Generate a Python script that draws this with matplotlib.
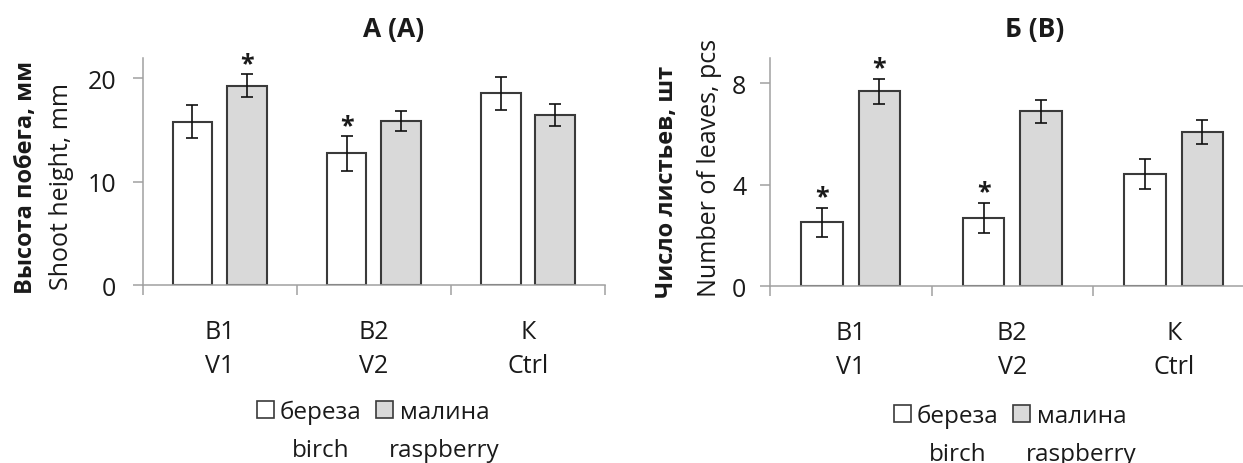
import matplotlib
matplotlib.use("Agg")
import matplotlib.pyplot as plt
from matplotlib.patches import Patch
import numpy as np

# ---------------- data ----------------
groups_ru = ["В1", "В2", "К"]
groups_en = ["V1", "V2", "Ctrl"]
species_ru = ["береза", "малина"]
species_en = ["birch", "raspberry"]

height_birch = [15.8, 12.75, 18.55]
height_birch_err = [1.6, 1.65, 1.6]
height_rasp = [19.3, 15.9, 16.5]
height_rasp_err = [1.1, 1.0, 1.05]
height_birch_sig = [False, True, False]
height_rasp_sig = [True, False, False]

leaves_birch = [2.52, 2.7, 4.42]
leaves_birch_err = [0.57, 0.6, 0.6]
leaves_rasp = [7.68, 6.9, 6.07]
leaves_rasp_err = [0.48, 0.45, 0.48]
leaves_birch_sig = [True, True, False]
leaves_rasp_sig = [True, False, False]

title_a = "А (A)"
title_b = "Б (B)"
ylabel_a_ru = "Высота побега, мм"
ylabel_a_en = "Shoot height, mm"
ylabel_b_ru = "Число листьев, шт"
ylabel_b_en = "Number of leaves, pcs"
yticks_a = [0, 10, 20]
yticks_b = [0, 4, 8]

# ---------------- style ----------------
plt.rcParams["font.family"] = ["Open Sans", "DejaVu Sans"]
TXT = "#1a1a1a"
SPINE = "#a0a0a0"
EDGE = "#3a3a3a"
FILL = ["#ffffff", "#d9d9d9"]
FS = 18

W, H = 1243, 464
fig = plt.figure(figsize=(W / 100, H / 100), dpi=100)


def fx(px):
    return px / W


def fy(py):
    return 1 - py / H


def make_panel(rect, vals_b, err_b, sig_b, vals_r, err_r, sig_r, ymax, yticks, ypad):
    ax = fig.add_axes(rect)
    x = np.arange(len(groups_ru))
    off = 0.177
    bw = 0.258
    series = [(vals_b, err_b, sig_b), (vals_r, err_r, sig_r)]
    for i, (v, e, s) in enumerate(series):
        pos = x + (-off if i == 0 else off)
        ax.bar(pos, v, width=bw, color=FILL[i], edgecolor=EDGE, linewidth=1.5, zorder=2)
        ax.errorbar(pos, v, yerr=e, fmt="none", ecolor="#111111", elinewidth=1.2,
                    capsize=4, capthick=1.2, zorder=3)
        for p, vv, ee, ss in zip(pos, v, e, s):
            if ss:
                ax.annotate("*", (p, vv + ee), xytext=(0, -1), textcoords="offset points",
                            ha="center", va="bottom", fontsize=18, fontweight="bold",
                            color=TXT)
    ax.set_xlim(-0.5, len(groups_ru) - 0.5)
    ax.set_ylim(0, ymax)
    ax.set_yticks(yticks)
    ax.set_xticks(x)
    ax.set_xticklabels([f"{a}\n{b}" for a, b in zip(groups_ru, groups_en)],
                       fontsize=FS, color=TXT, linespacing=1.5)
    ax.set_xticks(np.arange(-0.5, len(groups_ru)), minor=True)
    ax.tick_params(axis="x", which="major", length=0, pad=24)
    ax.tick_params(axis="x", which="minor", length=7, width=1.1, color=SPINE, direction="out")
    ax.tick_params(axis="y", length=7, width=1.1, color=SPINE, direction="out",
                   labelsize=FS, labelcolor=TXT, pad=ypad)
    for sp in ["top", "right"]:
        ax.spines[sp].set_visible(False)
    for sp in ["left", "bottom"]:
        ax.spines[sp].set_color(SPINE)
        ax.spines[sp].set_linewidth(1.1)
    ax.spines["bottom"].set_zorder(4)
    return ax


def add_legend(ax, left_px, top_px, second_row_y):
    handles = [Patch(facecolor=FILL[i], edgecolor=EDGE, linewidth=1.2) for i in range(2)]
    leg = ax.legend(handles, species_ru, ncol=2, loc="upper left",
                    bbox_to_anchor=(fx(left_px), fy(top_px)),
                    bbox_transform=fig.transFigure, frameon=False, fontsize=17.5,
                    handlelength=0.7, handleheight=0.7, handletextpad=0.25,
                    columnspacing=0.6, borderpad=0, borderaxespad=0)
    for t in leg.get_texts():
        t.set_color(TXT)
    fig.canvas.draw()
    inv = fig.transFigure.inverted()
    for t, en in zip(leg.get_texts(), species_en):
        bb = t.get_window_extent()
        cx = inv.transform(((bb.x0 + bb.x1) / 2, 0))[0]
        fig.text(cx, fy(second_row_y), en, ha="center", va="center",
                 fontsize=17.5, color=TXT)
    return leg


# left panel: axes x 142.7 -> 605, y 58.8 -> 286.3
axA = make_panel([fx(142.7), fy(286.3), (605 - 142.7) / W, (286.3 - 58.8) / H],
                 height_birch, height_birch_err, height_birch_sig,
                 height_rasp, height_rasp_err, height_rasp_sig, 22, yticks_a, 12)
# right panel: axes x 770 -> 1254.5, y 58.9 -> 287.3
axB = make_panel([fx(770), fy(287.3), (1254.5 - 770) / W, (287.3 - 58.9) / H],
                 leaves_birch, leaves_birch_err, leaves_birch_sig,
                 leaves_rasp, leaves_rasp_err, leaves_rasp_sig, 9, yticks_b, 10)

add_legend(axA, 257, 401, 451)
add_legend(axB, 894, 405, 455)

fig.text(fx(394), fy(30), title_a, ha="center", va="center", fontsize=19,
         fontweight="bold", color=TXT)
fig.text(fx(1035), fy(30), title_b, ha="center", va="center", fontsize=19,
         fontweight="bold", color=TXT)

fig.text(fx(26), fy(177), ylabel_a_ru, rotation=90, ha="center", va="center",
         fontsize=17, fontweight="bold", color=TXT)
fig.text(fx(62), fy(186), ylabel_a_en, rotation=90, ha="center", va="center",
         fontsize=18, color=TXT)
fig.text(fx(667), fy(182), ylabel_b_ru, rotation=90, ha="center", va="center",
         fontsize=17, fontweight="bold", color=TXT)
fig.text(fx(710), fy(168), ylabel_b_en, rotation=90, ha="center", va="center",
         fontsize=18, color=TXT)

fig.savefig("out.png", dpi=100, facecolor="white")
